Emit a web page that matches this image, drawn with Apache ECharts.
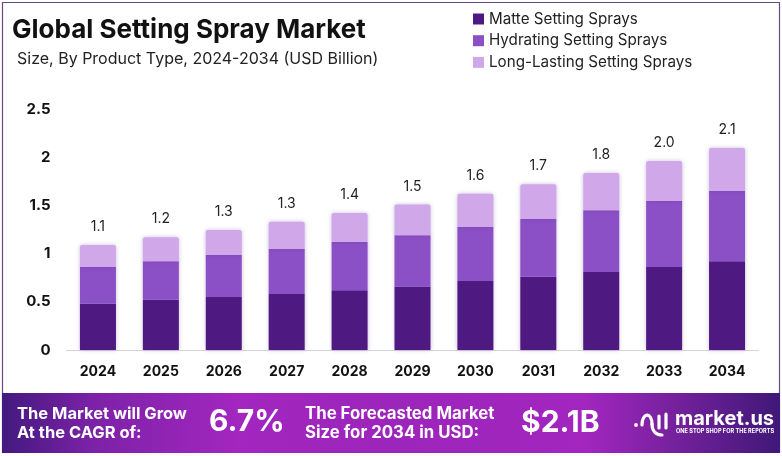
<!DOCTYPE html>
<html><head><meta charset="utf-8">
<style>html,body{margin:0;padding:0;background:#fff}#c{width:782px;height:456px}</style>
<script src="https://cdn.jsdelivr.net/npm/echarts@6/dist/echarts.min.js"></script>
</head><body><div id="c"></div>
<script>
const years = ['2024','2025','2026','2027','2028','2029','2030','2031','2032','2033','2034'];
const matte = [0.48,0.52,0.55,0.58,0.62,0.66,0.715,0.76,0.81,0.86,0.92];
const hydrating = [0.38,0.40,0.435,0.47,0.50,0.53,0.56,0.60,0.64,0.685,0.73];
const longLasting = [0.23,0.25,0.26,0.28,0.30,0.32,0.345,0.36,0.385,0.415,0.445];
const totalLabels = ['1.1','1.2','1.3','1.3','1.4','1.5','1.6','1.7','1.8','2.0','2.1'];
const yTicks = [0,0.5,1,1.5,2,2.5];
const FONT = 'Inter, "Noto Sans", sans-serif';
const barShadow = {shadowBlur:4, shadowColor:'rgba(90,40,140,0.3)'};
const chart = echarts.init(document.getElementById('c'), null, {renderer:'canvas'});
const T = (x,y,text,size,extra) => ({type:'text', x, y, silent:true, z:10,
  style:Object.assign({text, fill:'#fff', font:`700 ${size}px ${FONT}`, verticalAlign:'middle',
    shadowBlur:3, shadowColor:'rgba(40,0,70,0.6)', shadowOffsetY:1}, extra||{})});
const logoStroke = {fill:'none', stroke:'#fff', lineWidth:3.2, lineCap:'round'};
chart.setOption({
  animation:false,
  backgroundColor:'#fff',
  title:[
    {text:'Global Setting Spray Market', left:7, top:12,
     textStyle:{fontFamily:FONT, fontWeight:700, fontSize:26, color:'#111'}},
    {text:'Size, By Product Type, 2024-2034 (USD Billion)', left:12, top:46,
     textStyle:{fontFamily:FONT, fontWeight:400, fontSize:16, color:'#222'}}
  ],
  legend:{left:468, top:6.5, orient:'vertical', itemWidth:11, itemHeight:11, itemGap:6.7,
    icon:'rect', selectedMode:false,
    textStyle:{fontFamily:FONT, fontSize:15.2, color:'#222'}},
  grid:{left:66.5, right:23.5, top:109, bottom:106},
  xAxis:{type:'category', data:years,
    axisLine:{lineStyle:{color:'#d8d0dc', width:1}}, axisTick:{show:false},
    axisLabel:{fontFamily:FONT, fontWeight:700, fontSize:14, color:'#111', margin:15}},
  yAxis:{type:'value', min:0, max:2.5, interval:0.5, splitLine:{show:false},
    axisLine:{show:false}, axisTick:{show:false},
    axisLabel:{fontFamily:FONT, fontWeight:700, fontSize:15, color:'#111', margin:16,
      formatter:v=>yTicks.includes(v)?String(v):''}},
  series:[
    {name:'Matte Setting Sprays', type:'bar', stack:'t', barWidth:36, data:matte,
     itemStyle:Object.assign({color:'#4e1a82'},barShadow)},
    {name:'Hydrating Setting Sprays', type:'bar', stack:'t', data:hydrating,
     itemStyle:Object.assign({color:'#8b50c6'},barShadow)},
    {name:'Long-Lasting Setting Sprays', type:'bar', stack:'t', data:longLasting,
     itemStyle:Object.assign({color:'#d0a8ea', borderRadius:[2,2,0,0]},barShadow),
     label:{show:true, position:'top', distance:11, fontFamily:FONT, fontSize:14, color:'#222',
       formatter:p=>totalLabels[p.dataIndex]}}
  ],
  graphic:[
    {type:'rect', silent:true, z:5, shape:{x:2.5,y:2.5,width:777,height:450},
     style:{fill:'none', stroke:'#6a4a82', lineWidth:1.2}},
    {type:'rect', silent:true, z:6, shape:{x:2,y:393,width:778,height:60},
     style:{fill:new echarts.graphic.LinearGradient(0,0,1,0,[
       {offset:0,color:'#43197f'},{offset:0.12,color:'#7d22a8'},{offset:0.3,color:'#a226bf'},
       {offset:0.5,color:'#9c25bb'},{offset:0.75,color:'#a226bf'},{offset:0.88,color:'#6f2098'},{offset:1,color:'#3f1878'}])}},
    T(17,414,'The Market will Grow',16.5),
    T(17,433,'At the CAGR of:',16.5),
    T(209,422,'6.7%',30),
    T(305,414,'The Forecasted Market',16.8),
    T(305,433,'Size for 2034 in USD:',16.8),
    T(521,423,'$2.1B',30),
    T(675,419,'market.us',20),
    T(676,431,'ONE STOP SHOP FOR THE REPORTS',5.6,{shadowBlur:0,shadowOffsetY:0}),
    {type:'circle',silent:true,z:10,shape:{cx:636,cy:425,r:1.9},style:{fill:'#fff'}},
    {type:'bezierCurve',silent:true,z:10,shape:{x1:642,y1:425,cpx1:642,cpy1:412,cpx2:652,cpy2:412,x2:652,y2:424},style:logoStroke},
    {type:'bezierCurve',silent:true,z:10,shape:{x1:652,y1:424,cpx1:652,cpy1:431,cpx2:656,cpy2:435,x2:662,y2:435},style:logoStroke},
    {type:'line',silent:true,z:10,shape:{x1:659,y1:416,x2:659,y2:428},style:logoStroke},
    {type:'line',silent:true,z:10,shape:{x1:666,y1:414,x2:666,y2:428},style:logoStroke}
  ]
});
</script></body></html>
